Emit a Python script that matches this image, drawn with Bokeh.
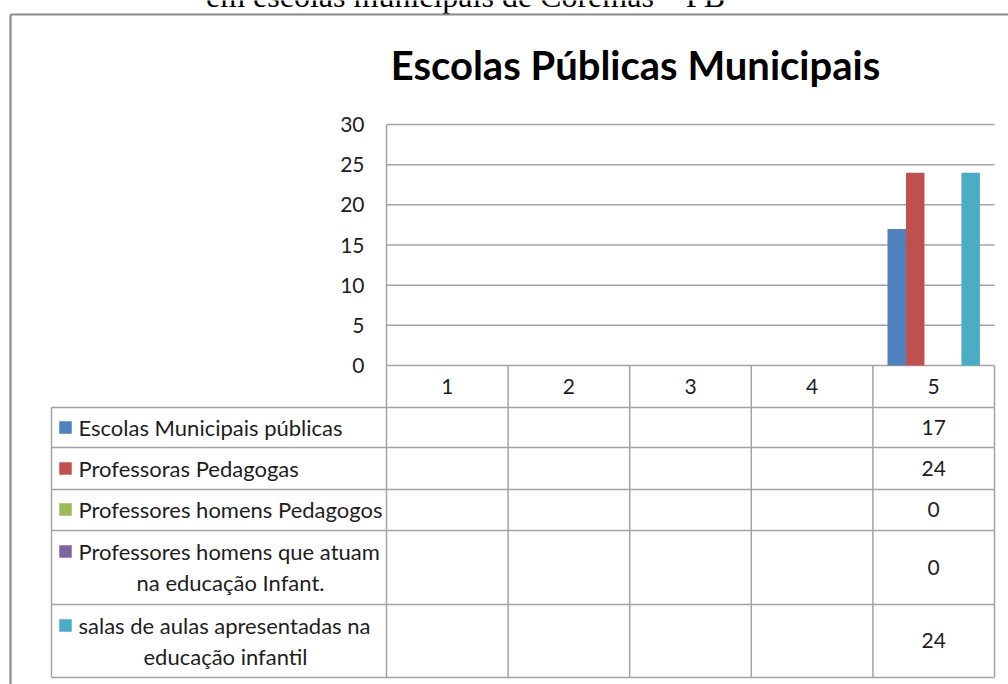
from bokeh.plotting import figure
from bokeh.models import Range1d, ColumnDataSource
from bokeh.core.properties import value
from bokeh.embed import file_html
from bokeh.resources import INLINE

# ---------------- data ----------------
categories = ["1", "2", "3", "4", "5"]
series_names = [
    "Escolas Municipais públicas",
    "Professoras Pedagogas",
    "Professores homens Pedagogos",
    "Professores homens que atuam\nna educação Infant.",
    "salas de aulas apresentadas na\neducação infantil",
]
escolas_municipais = [None, None, None, None, 17]
professoras_pedagogas = [None, None, None, None, 24]
professores_pedagogos = [None, None, None, None, 0]
professores_infantil = [None, None, None, None, 0]
salas_infantil = [None, None, None, None, 24]
series_values = [escolas_municipais, professoras_pedagogas, professores_pedagogos,
                 professores_infantil, salas_infantil]
colors = ["#4F81BD", "#C0504D", "#9BBB59", "#8064A2", "#4BACC6"]
y_ticks = [0, 5, 10, 15, 20, 25, 30]
title_text = "Escolas Públicas Municipais"
caption_text = "em escolas municipais de Coremas – PB"

# ---------------- layout ----------------
W, H = 1008, 684
PLOT_L, PLOT_R, PLOT_T, PLOT_B = 386, 994, 124, 365
YMAX = 30
TABLE_L = 51
BORDER_X, BORDER_Y = 10, 14
ROW_EDGES = [407, 447, 489, 530, 604, 677]
ROW_LINE_Y = [[427], [468], [509], [551, 582], [625, 656]]
ROW_VALUE_Y = [427, 468, 509, 567, 640]
LINE2_CENTER = 230
LINE2_CENTER_ROW5 = 225
BAR_W = 0.152
GRID = "#a3a3a3"
TXT = "#1e1e1e"
FONT = value("Lato")

n = len(categories)
ppu_x = (PLOT_R - PLOT_L) / n
cat_start = 0.5 - PLOT_L / ppu_x
cat_end = n + 0.5 + (W - PLOT_R) / ppu_x
ppu_y = (PLOT_B - PLOT_T) / YMAX
val_end = YMAX + PLOT_T / ppu_y
val_start = -(H - PLOT_B) / ppu_y

p = figure(width=W, height=H, x_range=Range1d(0, W), y_range=Range1d(H, 0),
           min_border=0, toolbar_location=None, output_backend="svg",
           x_axis_type=None, y_axis_type=None)
p.outline_line_color = None
p.background_fill_color = "white"
p.border_fill_color = "white"
p.extra_x_ranges = {"cat": Range1d(cat_start, cat_end)}
p.extra_y_ranges = {"val": Range1d(val_start, val_end)}

# caption cut at the top of the page (as in the reference)
p.text(x=[465], y=[-5], text=[caption_text], text_font=value("Liberation Serif"),
       text_font_size="32px", text_align="center", text_baseline="alphabetic",
       text_color="#000000")

# outer border of the chart object
p.segment(x0=[BORDER_X, BORDER_X], y0=[BORDER_Y, BORDER_Y], x1=[W, BORDER_X], y1=[BORDER_Y, H],
          line_color="#8a8a8a", line_width=2.2)

# title
p.text(x=[635], y=[64], text=[title_text], text_font=FONT, text_font_style="bold",
       text_font_size="40px", text_align="center", text_baseline="alphabetic",
       text_color="#000000")

# gridlines and value axis
p.segment(x0=[0.5] * len(y_ticks), x1=[n + 0.5] * len(y_ticks), y0=y_ticks, y1=y_ticks,
          x_range_name="cat", y_range_name="val", line_color=GRID, line_width=1.5)
p.segment(x0=[0.5], x1=[0.5], y0=[0], y1=[YMAX], x_range_name="cat", y_range_name="val",
          line_color=GRID, line_width=1.5)
p.text(x=[0.5] * len(y_ticks), y=y_ticks, text=[str(t) for t in y_ticks],
       x_range_name="cat", y_range_name="val", x_offset=-22,
       text_align="right", text_baseline="middle", text_font=FONT,
       text_font_size="21px", text_color=TXT)

# bars
for i, (vals, col) in enumerate(zip(series_values, colors)):
    xs, tops = [], []
    for j, v in enumerate(vals):
        if v is not None:
            xs.append(j + 1 + (i - (len(series_values) - 1) / 2) * BAR_W)
            tops.append(v)
    src = ColumnDataSource(dict(x=xs, top=tops))
    p.vbar(x="x", top="top", bottom=0, width=BAR_W, source=src,
           x_range_name="cat", y_range_name="val", fill_color=col, line_color=None)

# data table
bounds = [k + 0.5 for k in range(n + 1)]
p.segment(x0=bounds, x1=bounds, y0=[PLOT_B] * len(bounds), y1=[ROW_EDGES[-1]] * len(bounds),
          x_range_name="cat", line_color=GRID, line_width=1.5)
p.segment(x0=[TABLE_L], x1=[TABLE_L], y0=[ROW_EDGES[0]], y1=[ROW_EDGES[-1]],
          line_color=GRID, line_width=1.5)
p.segment(x0=[TABLE_L] * len(ROW_EDGES), x1=[PLOT_R] * len(ROW_EDGES), y0=ROW_EDGES,
          y1=ROW_EDGES, line_color=GRID, line_width=1.5)
p.text(x=list(range(1, n + 1)), y=[(PLOT_B + ROW_EDGES[0]) / 2] * n, text=categories,
       x_range_name="cat", text_align="center", text_baseline="middle", text_font=FONT,
       text_font_size="21px", text_color=TXT)

for r, (name, col, vals) in enumerate(zip(series_names, colors, series_values)):
    lines = name.split("\n")
    ys = ROW_LINE_Y[r]
    p.rect(x=[65], y=[ys[0]], width=12.5, height=12.5, fill_color=col, line_color=None)
    p.text(x=[78], y=[ys[0]], text=[lines[0]], text_align="left", text_baseline="middle",
           text_font=FONT, text_font_size="22px", text_color=TXT)
    if len(lines) > 1:
        cx = LINE2_CENTER if r == 3 else LINE2_CENTER_ROW5
        p.text(x=[cx], y=[ys[1]], text=[lines[1]], text_align="center",
               text_baseline="middle", text_font=FONT, text_font_size="22px",
               text_color=TXT)
    cells_x = [j + 1 for j, v in enumerate(vals) if v is not None]
    cells_t = [str(v) for v in vals if v is not None]
    p.text(x=cells_x, y=[ROW_VALUE_Y[r]] * len(cells_x), text=cells_t, x_range_name="cat",
           text_align="center", text_baseline="middle", text_font=FONT,
           text_font_size="21px", text_color=TXT)

open("out.html", "w").write(file_html(p, INLINE))
